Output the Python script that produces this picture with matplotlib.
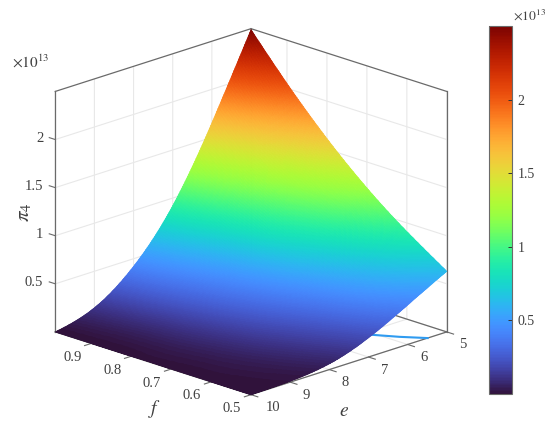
import numpy as np
import matplotlib
matplotlib.use("Agg")
import matplotlib.pyplot as plt
import matplotlib.tri as mtri
from matplotlib import cm, colors
from mpl_toolkits.mplot3d import proj3d

plt.rcParams['font.family'] = ['Liberation Serif', 'DejaVu Serif']
plt.rcParams['mathtext.fontset'] = 'stix'

# Data (z in units of 1e13)
e_values = [5, 6, 7, 8, 9, 10]
f_values = [0.5, 0.6, 0.7, 0.8, 0.9, 0.99]
z_e5 = [0.63, 0.91, 1.23, 1.61, 2.05, 2.49]
z_e6 = [0.41, 0.60, 0.81, 1.06, 1.34, 1.65]
z_e7 = [0.20, 0.31, 0.44, 0.58, 0.74, 0.92]
z_e8 = [0.06, 0.12, 0.19, 0.26, 0.34, 0.42]
z_e9 = [0.01, 0.03, 0.05, 0.07, 0.09, 0.12]
z_e10 = [0.0, 0.0, 0.0, 0.0, 0.0, 0.0]
floor_line_e = [5.49, 5.8, 6.1, 6.25]
floor_line_f = [0.5, 0.54, 0.587, 0.61]
f_ticks = [0.5, 0.6, 0.7, 0.8, 0.9]
e_ticks = [5, 6, 7, 8, 9, 10]
z_ticks = [0.5, 1, 1.5, 2]
z_ticklabels = ['0.5', '1', '1.5', '2']
z_min, z_max = 0.0, 2.50

TXT = '#404040'
BOX = '#6a6a6a'
GRID = '#e8e8e8'

fig = plt.figure(figsize=(5.5, 4.26), dpi=100)
W, H = 550, 426
side = 453
ax = fig.add_axes([18.4 / W, -18.3 / H, side / W, side / H], projection='3d',
                  computed_zorder=False)
ax.set_proj_type('ortho')
ax.view_init(elev=18.7, azim=135)
ax.set_box_aspect((1, 1, 0.917))
ax.patch.set_alpha(0)

flim = (f_values[0], f_values[-1])
elim = (e_values[0], e_values[-1])
ax.set_xlim(*flim, view_margin=0)
ax.set_ylim(*elim, view_margin=0)
ax.set_zlim(z_min, z_max, view_margin=0)

F, E = np.meshgrid(f_values, e_values)
Z = np.array([z_e5, z_e6, z_e7, z_e8, z_e9, z_e10])
base = mtri.Triangulation(F.ravel(), E.ravel())
refiner = mtri.UniformTriRefiner(base)
fine_tri, fine_z = refiner.refine_field(Z.ravel(), subdiv=5)
fine_z = np.clip(fine_z, z_min, z_max)

ax.plot(floor_line_f, floor_line_e, [z_min] * len(floor_line_e), color='#2f9bf0',
        lw=1.5, zorder=4)
surf = ax.plot_trisurf(fine_tri, fine_z, cmap='turbo', vmin=z_min, vmax=z_max,
                       linewidth=0.5, antialiased=True, shade=False, zorder=5)
surf.set_edgecolor('face')

# box lines
f0, f1 = flim
e0, e1 = elim
for xs, ys, zs in [
    ((f1, f1), (e1, e0), (z_max, z_max)),
    ((f1, f0), (e0, e0), (z_max, z_max)),
    ((f1, f1), (e1, e1), (z_min, z_max)),
    ((f0, f0), (e0, e0), (z_min, z_max)),
    ((f1, f1), (e0, e0), (z_min, z_max)),
    ((f1, f0), (e0, e0), (z_min, z_min)),
    ((f1, f1), (e1, e0), (z_min, z_min)),
    ((f0, f1), (e1, e1), (z_min, z_min)),
    ((f0, f0), (e1, e0), (z_min, z_min)),
]:
    ax.plot(xs, ys, zs, color=BOX, lw=0.9, zorder=3)

for axis in (ax.xaxis, ax.yaxis, ax.zaxis):
    axis.set_pane_color((1, 1, 1, 0))
    axis.pane.set_edgecolor((1, 1, 1, 0))
    axis.line.set_color((1, 1, 1, 0))
    axis._axinfo['grid'].update(color=GRID, linewidth=0.8)
    axis._axinfo['tick'].update(inward_factor=0.0, outward_factor=0.0)
    axis._axinfo['axisline']['color'] = (1, 1, 1, 0)

ax.set_xticks(f_ticks)
ax.set_yticks(e_ticks)
ax.set_zticks(z_ticks)
ax.set_xticklabels([])
ax.set_yticklabels([])
ax.set_zticklabels([])
ax.tick_params(length=0, width=0, color=(1, 1, 1, 0))


def tick_label(x, y, z, s, dx, dy, ha='center'):
    """Label a point of the box, dx/dy pixels away from where it is projected."""
    px, py, _ = proj3d.proj_transform(x, y, z, ax.get_proj())
    ax.annotate(s, xy=(px, py), xycoords='data', xytext=(dx, dy),
                textcoords='offset pixels', fontsize=10.5, color=TXT,
                ha=ha, va='center', annotation_clip=False)


# tick marks and labels, placed on the outside of the box
for v in f_ticks:
    ax.plot((v, v), (e1, e1 + 0.17), (z_min, z_min), color=BOX, lw=0.8, zorder=3)
    tick_label(v, e1, z_min, f'{v:g}', -19, -14)
for v in e_ticks:
    ax.plot((f0, f0 - 0.017), (v, v), (z_min, z_min), color=BOX, lw=0.8, zorder=3)
    tick_label(f0, v, z_min, f'{v:g}', 22 if v == 10 else 16, -13)
for v, s in zip(z_ticks, z_ticklabels):
    ax.plot((f1, f1 + 0.015), (e1, e1), (v, v), color=BOX, lw=0.8, zorder=3)
    tick_label(f1, e1, v, s, -12, 1, ha='right')

fig.text(155 / W, 1 - 409 / H, r'$f$', fontsize=14, color=TXT, ha='center', va='center')
fig.text(344 / W, 1 - 412 / H, r'$e$', fontsize=14, color=TXT, ha='center', va='center')
fig.text(25 / W, 1 - 212 / H, r'$\pi_4$', fontsize=15, color=TXT, ha='center', va='center',
         rotation=90)
fig.text(12 / W, 1 - 62 / H, r'$\times 10^{13}$', fontsize=11, color=TXT, ha='left', va='center')

cax = fig.add_axes([489 / W, 1 - 394 / H, 23 / W, 368 / H])
sm = cm.ScalarMappable(norm=colors.Normalize(z_min, z_max), cmap='turbo')
cb = fig.colorbar(sm, cax=cax)
cb.set_ticks(z_ticks, labels=z_ticklabels)
cb.ax.tick_params(direction='in', length=3, width=0.7, labelsize=10, labelcolor=TXT, pad=4,
                  color='#333333')
cb.outline.set_edgecolor(BOX)
cb.outline.set_linewidth(0.8)
fig.text(513 / W, 1 - 15 / H, r'$\times 10^{13}$', fontsize=9.7, color=TXT, ha='left', va='center')

fig.savefig('out.png', dpi=100, facecolor='white')
